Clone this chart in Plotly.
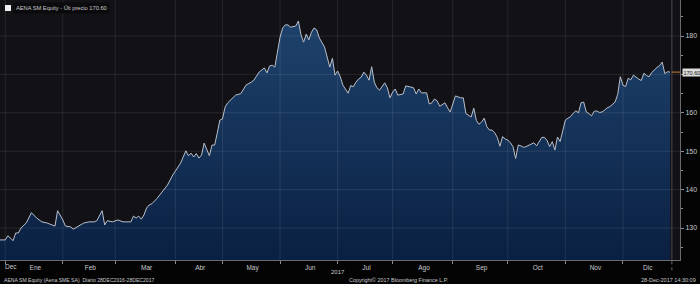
import plotly.graph_objects as go
import pandas as pd

# ---------------- data ----------------
# trading session number (0 = 28-Dec-2016 ... 256 = 28-Dec-2017) and closing price
session = [0, 2, 3, 5, 6, 7, 8, 10, 11, 12, 14, 16, 18, 20, 21, 22, 24, 25, 27, 28,
           30, 32, 34, 36, 37, 39, 40, 41, 43, 45, 47, 50, 51, 52, 53, 54, 55, 56, 57, 58,
           60, 62, 64, 66, 68, 69, 70, 71, 72, 73, 74, 75, 76, 77, 78, 79, 80, 81, 82, 83,
           84, 85, 86, 87, 89, 90, 92, 94, 96, 97, 99, 100, 101, 102, 103, 104, 105, 106, 107, 108,
           109, 110, 111, 113, 114, 115, 116, 117, 118, 119, 120, 121, 122, 124, 125, 126, 127, 128, 129, 130,
           131, 132, 133, 134, 135, 136, 137, 138, 139, 140, 141, 142, 143, 144, 145, 147, 148, 149, 150, 151,
           152, 154, 155, 157, 158, 159, 160, 161, 163, 164, 165, 166, 167, 168, 170, 171, 172, 173, 174, 176,
           177, 178, 179, 180, 181, 182, 183, 184, 185, 186, 187, 188, 189, 190, 191, 192, 193, 194, 195, 196,
           197, 198, 199, 200, 201, 202, 203, 204, 205, 206, 207, 208, 209, 210, 211, 212, 213, 214, 215, 216,
           217, 218, 219, 220, 221, 222, 223, 224, 225, 226, 227, 228, 229, 230, 231, 232, 233, 234, 235, 236,
           237, 238, 239, 240, 241, 242, 243, 244, 245, 246, 247, 248, 249, 250, 251, 252, 253, 254, 255, 256]
price = [126.9, 126.9, 128.0, 126.7, 128.7, 128.7, 130.0, 131.3, 132.6, 134.0, 132.6, 131.6, 131.3, 130.8, 130.5, 134.5, 132.1, 130.5, 130.3, 129.7,
         130.5, 131.3, 131.6, 131.6, 131.9, 134.5, 130.8, 131.9, 131.6, 132.1, 131.6, 131.6, 133.1, 132.6, 133.1, 132.3, 133.4, 135.2, 136.0, 136.3,
         137.7, 139.5, 141.2, 143.8, 146.1, 146.9, 148.5, 150.1, 148.8, 149.5, 148.5, 149.4, 148.2, 149.0, 152.1, 150.6, 148.8, 151.6, 151.6, 154.7,
         158.1, 158.4, 161.5, 162.6, 163.9, 164.6, 165.0, 167.2, 168.0, 168.5, 170.6, 171.1, 171.7, 170.4, 172.2, 172.4, 171.9, 175.8, 179.7, 182.1,
         182.9, 182.9, 182.3, 182.6, 183.9, 180.3, 178.4, 180.5, 179.0, 181.0, 182.1, 181.6, 179.5, 177.1, 174.5, 171.9, 174.2, 169.8, 170.9, 169.4,
         167.2, 166.2, 165.1, 167.1, 166.8, 168.0, 168.8, 169.3, 170.6, 169.8, 168.5, 172.0, 168.0, 166.5, 165.9, 167.8, 166.5, 163.9, 165.4, 166.2,
         164.6, 164.9, 167.0, 166.7, 166.5, 164.9, 166.2, 165.2, 165.2, 162.3, 162.6, 163.6, 163.1, 161.7, 162.6, 161.3, 160.2, 162.3, 164.4, 163.9,
         163.9, 159.8, 159.4, 158.9, 161.2, 158.0, 157.0, 157.6, 158.6, 156.4, 155.5, 155.5, 154.8, 153.6, 151.3, 153.8, 153.2, 152.9, 152.2, 151.2,
         148.1, 151.6, 151.4, 151.0, 151.2, 151.5, 151.8, 152.2, 151.4, 152.5, 153.6, 153.6, 152.8, 151.2, 152.5, 150.3, 153.7, 152.5, 155.0, 158.1,
         158.6, 159.0, 159.9, 160.5, 160.0, 162.6, 162.8, 160.2, 159.8, 159.2, 160.4, 160.5, 160.1, 160.2, 160.7, 161.3, 161.6, 162.2, 162.8, 164.8,
         169.4, 167.2, 166.8, 169.0, 168.6, 169.8, 169.2, 168.8, 168.4, 170.3, 169.7, 169.4, 170.5, 171.3, 171.8, 172.3, 173.2, 170.2, 170.7, 170.6]

month_names = ["Dec", "Ene", "Feb", "Mar", "Abr", "May", "Jun", "Jul", "Ago", "Sep", "Oct", "Nov", "Dic"]
y_ticks = [130, 140, 150, 160, 170, 180]
y_minor = [125, 135, 145, 155, 165, 175, 185]
holidays = ["2017-04-14", "2017-04-17", "2017-05-01", "2017-12-25", "2017-12-26"]
last_price = 170.60

# ---------------- trading calendar ----------------
cal = [d for d in pd.bdate_range("2016-12-28", "2017-12-28") if d.strftime("%Y-%m-%d") not in holidays]
months = pd.Series(range(len(cal)), index=pd.DatetimeIndex(cal))
groups = months.groupby([months.index.year, months.index.month])
month_mid = [float(g.mean()) for _, g in groups]
month_first = [int(g.min()) for _, g in groups]
month_bound = [f - 1 for f in month_first[1:]]
dates = [cal[s].strftime("%d-%b-%Y") for s in session]

x_max = 259.8
y_lo, y_hi = 121.67, 189.375

fig = go.Figure()
fig.add_trace(go.Scatter(
    x=session, y=price, mode="lines",
    line=dict(color="#b9c0cb", width=1),
    fill="tozeroy",
    fillgradient=dict(type="vertical", start=y_lo, stop=184,
                      colorscale=[[0, "#0a2042"], [1, "#1e426c"]]),
    customdata=dates, hovertemplate="%{customdata}: %{y:.2f}<extra></extra>",
    showlegend=False,
))

shapes = []
grid_col = "rgba(255,255,255,0.09)"
for b in month_bound:
    shapes.append(dict(type="line", xref="x", yref="paper", x0=b, x1=b, y0=0, y1=1,
                       line=dict(color=grid_col, width=1), layer="above"))
for v in y_ticks:
    shapes.append(dict(type="line", xref="paper", yref="y", x0=0, x1=1, y0=v, y1=v,
                       line=dict(color=grid_col, width=1), layer="above"))
# current-date marker
now_x = session[-1] + 0.7
shapes.append(dict(type="line", xref="x", yref="paper", x0=now_x, x1=now_x, y0=0, y1=1,
                   line=dict(color="#4a4a50", width=1), layer="above"))
shapes.append(dict(type="line", xref="x", yref="paper", x0=now_x, x1=now_x, y0=-0.005, y1=-0.05,
                   line=dict(color="#6a6a70", width=1, dash="dot"), layer="above"))
# last price connector
shapes.append(dict(type="line", xref="x", yref="y", x0=now_x, x1=x_max, y0=last_price, y1=last_price,
                   line=dict(color="#c8803a", width=1), layer="above"))
# legend square
shapes.append(dict(type="rect", xref="paper", yref="paper", x0=5 / 680, x1=11 / 680,
                   y0=1 - 11 / 260, y1=1 - 5 / 260, fillcolor="#f0f0f0", line=dict(width=0)))

txt = "#c8c8cc"
font = "Liberation Sans"
y_text = ["" if v == 170 else str(v) for v in y_ticks]

annotations = [
    dict(xref="paper", yref="paper", x=13 / 680, y=1 - 8 / 260, xanchor="left", yanchor="middle",
         text="AENA SM Equity - Últ precio 170.60", showarrow=False,
         font=dict(family=font, size=5.7, color=txt), bgcolor="#0b0b0d", borderpad=2),
    dict(xref="paper", yref="y", x=1.003, y=last_price, xanchor="left", yanchor="middle",
         text="%.2f" % last_price, showarrow=False,
         font=dict(family=font, size=5.5, color="#111111"), bgcolor="#dcdcdc", borderpad=0.5),
    dict(xref="paper", yref="paper", x=3 / 680, y=1 - 266 / 260, xanchor="left", yanchor="middle",
         text=month_names[0], showarrow=False, font=dict(family=font, size=6.5, color=txt)),
    dict(xref="paper", yref="paper", x=338 / 680, y=1 - 272 / 260, xanchor="center", yanchor="middle",
         text="2017", showarrow=False, font=dict(family=font, size=6, color=txt)),
    dict(xref="paper", yref="paper", x=2 / 680, y=1 - 280 / 260, xanchor="left", yanchor="middle",
         text="AENA SM Equity (Aena SME SA)  Diario 28DEC2016-28DEC2017", showarrow=False,
         font=dict(family=font, size=5.1, color=txt)),
    dict(xref="paper", yref="paper", x=347 / 680, y=1 - 280 / 260, xanchor="left", yanchor="middle",
         text="Copyright© 2017 Bloomberg Finance L.P.", showarrow=False,
         font=dict(family=font, size=5.4, color=txt)),
    dict(xref="paper", yref="paper", x=698 / 680, y=1 - 280 / 260, xanchor="right", yanchor="middle",
         text="28-Dec-2017 14:30:09", showarrow=False,
         font=dict(family=font, size=5.5, color=txt)),
]

fig.update_layout(
    width=700, height=284,
    margin=dict(l=0, r=20, t=0, b=24, autoexpand=False),
    paper_bgcolor="#040405", plot_bgcolor="#121116",
    shapes=shapes, annotations=annotations,
    hovermode="closest",
    xaxis=dict(range=[0, x_max], tickmode="array", tickvals=month_mid[1:], ticktext=month_names[1:],
               ticks="", showgrid=False, zeroline=False, showline=True, linecolor="#6a6a70",
               tickfont=dict(family=font, size=6.5, color=txt), ticklabelstandoff=1,
               minor=dict(tickmode="array", tickvals=month_bound, ticks="outside", ticklen=3,
                          tickcolor="#8a8a90", showgrid=False)),
    yaxis=dict(side="right", range=[y_lo, y_hi], tickmode="array", tickvals=y_ticks, ticktext=y_text,
               ticks="outside", ticklen=3, tickcolor="#8a8a90", showgrid=False, zeroline=False,
               showline=True, linecolor="#6a6a70",
               tickfont=dict(family=font, size=7, color=txt),
               minor=dict(tickmode="array", tickvals=y_minor, ticks="outside", ticklen=2,
                          tickcolor="#8a8a90", showgrid=False)),
)

fig.write_html("out.html")
